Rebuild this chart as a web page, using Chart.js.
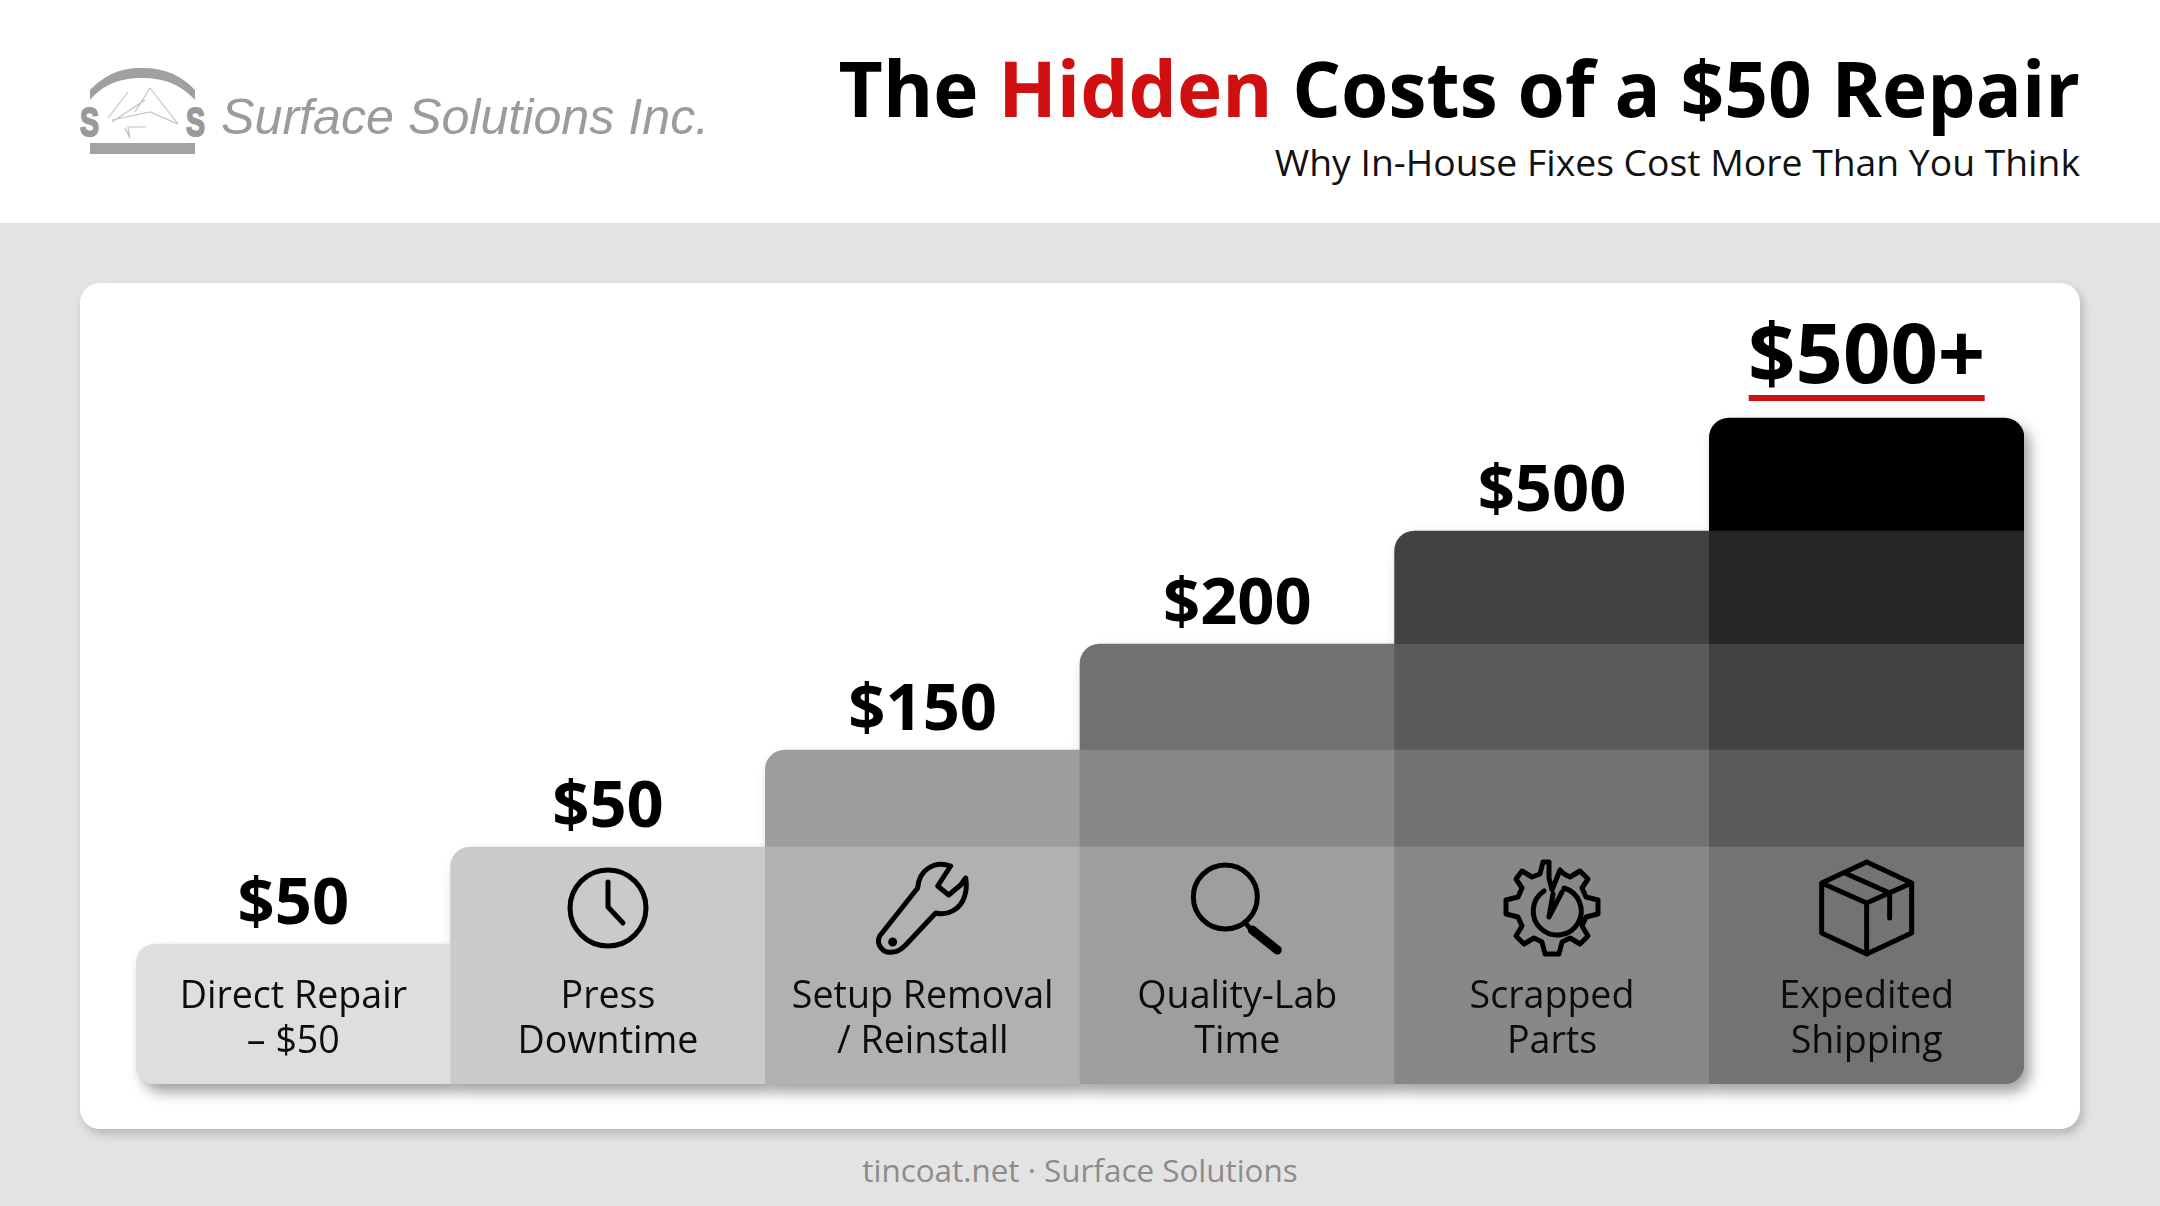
<!DOCTYPE html>
<html>
<head>
<meta charset="utf-8">
<title>The Hidden Costs of a $50 Repair</title>
<script src="https://cdn.jsdelivr.net/npm/chart.js@4"></script>
<style>
  html, body { margin: 0; padding: 0; }
  body { width: 2160px; height: 1206px; position: relative; overflow: hidden; background: #e3e3e3; font-family: "Open Sans", sans-serif; }
  #header { position: absolute; left: 0; top: 0; width: 2160px; height: 223px; background: #fff; }
  #logo { position: absolute; left: 70px; top: 60px; }
  #brand { position: absolute; left: 221px; top: 88px; font: italic 50.2px "Liberation Sans", sans-serif; color: #9b9b9b; white-space: nowrap; }
  #title { position: absolute; right: 80px; top: 35px; font-weight: 700; font-size: 76.5px; line-height: 104px; color: #000; white-space: nowrap; }
  #title span { color: #d01010; }
  #subtitle { position: absolute; right: 80px; top: 135px; font-size: 37.3px; line-height: 54px; color: #111; white-space: nowrap; }
  #card { position: absolute; left: 80px; top: 283px; width: 2000px; height: 846px; background: #fff; border-radius: 20px; box-shadow: 3px 5px 10px rgba(0,0,0,.2); }
  #footer { position: absolute; left: 0; width: 2160px; top: 1148px; text-align: center; font-size: 31.4px; line-height: 44px; color: #8c8c8c; }
  canvas { position: absolute; left: 0; top: 0; }
</style>
</head>
<body>
<div id="header"></div>
<svg id="logo" width="150" height="110" viewBox="70 60 150 110">
  <path d="M90 100 V90 C104 76 118 68 142 68 C166 68 182 76 195 90 V100 C180 84 164 78 142 78 C120 78 104 84 90 100 Z" fill="#a0a0a0"/>
  <rect x="90" y="143" width="105" height="11" fill="#a3a3a3"/>
  <text x="80" y="136" font-family="Liberation Sans" font-weight="700" font-size="41" fill="#999" stroke="#999" stroke-width="2" textLength="19" lengthAdjust="spacingAndGlyphs">S</text>
  <text x="186" y="136" font-family="Liberation Sans" font-weight="700" font-size="41" fill="#999" stroke="#999" stroke-width="2" textLength="19" lengthAdjust="spacingAndGlyphs">S</text>
  <path d="M108 118 L128 92 M112 122 L145 100 M150 88 L178 124 L150 112 L112 120 M125 128 L130 138 L128 127 L146 127 M150 88 L135 112" fill="none" stroke="#c2c2c2" stroke-width="1.2"/>
</svg>
<div id="brand">Surface Solutions Inc.</div>
<div id="title">The <span>Hidden</span> Costs of a $50 Repair</div>
<div id="subtitle">Why In-House Fixes Cost More Than You Think</div>
<div id="card"></div>
<div id="footer">tincoat.net · Surface Solutions</div>
<canvas id="chart" width="2160" height="1206"></canvas>
<script>
const categories = [
  ['Direct Repair', '– $50'],
  ['Press', 'Downtime'],
  ['Setup Removal', '/ Reinstall'],
  ['Quality-Lab', 'Time'],
  ['Scrapped', 'Parts'],
  ['Expedited', 'Shipping']
];
const costLabels = ['$50', '$50', '$150', '$200', '$500', '$500+'];

// bar heights don't follow the dollar labels, read off the picture as steps
const layer1 = [140, 140, 140, 140, 140, 140];
const layer2 = [null, 97, 97, 97, 97, 97];
const layer3 = [null, null, 97, 97, 97, 97];
const layer4 = [null, null, null, 106, 106, 106];
const layer5 = [null, null, null, null, 113, 113];
const layer6 = [null, null, null, null, null, 113];
const layers = [layer1, layer2, layer3, layer4, layer5, layer6];

const lowerGreys = ['#dedede', '#cacaca', '#b1b1b1', '#9e9e9e', '#888888', '#737373'];
const layerGreys = [
  lowerGreys,
  lowerGreys,
  ['', '', '#9d9d9d', '#888888', '#727272', '#5a5a5a'],
  ['', '', '', '#717171', '#5a5a5a', '#424242'],
  ['', '', '', '', '#424242', '#262626'],
  ['', '', '', '', '', '#000000']
];

const iconPaths = [
  null,
  'M38 0A38 38 0 1 1 -38 0A38 38 0 1 1 38 0M0 -26V-1L15 15',
  'M28 -42C12 -48 -4 -38 -5 -20L-43 28C-47 36 -40 46 -30 44C-24 44 -20 40 -17 37L13 5C24 8 38 2 42 -12C44 -18 44 -24 43 -30L38 -23L26 -13L15 -22ZM-28 34A2 2 0 1 1 -32 34A2 2 0 1 1 -28 34',
  'M20 -11A32 32 0 1 1 -44 -11A32 32 0 1 1 20 -11M9 16L14 22',
  'M-3 -46L-9 -46L-12 -34L-20 -31L-30 -37L-36 -29L-30 -20L-34 -11L-46 -8V6L-34 9L-30 18L-36 28L-28 36L-18 30L-10 34L-7 46H7L10 34L18 30L28 36L36 28L30 18L34 9L46 6V-8L34 -11L30 -20L36 -29L28 -37L18 -31L12 -34L8 -38L4 -28L0 -18L-3 -30ZM-8 -17A24 24 0 1 0 12 -20M-3 9L1 -14M-3 9L10 -16',
  'M0 -46L45 -25V25L0 46L-45 25V-25ZM-45 -25L0 -5L45 -25M0 -5V46M-22 -35L23 -15V10'
];

function cornerRadius(ctx) {
  const col = ctx.dataIndex;
  const lay = ctx.datasetIndex;
  const r = 20;
  const top = lay === col;
  return {
    topLeft: top ? r : 0,
    topRight: top && col === 5 ? r : 0,
    bottomLeft: col === 0 && lay === 0 ? r : 0,
    bottomRight: col === 5 && lay === 0 ? r : 0
  };
}

// soft shadow under the whole staircase
const shadowPlugin = {
  id: 'stairShadow',
  beforeDatasetsDraw(chart) {
    const { ctx } = chart;
    const y = chart.scales.y;
    ctx.save();
    ctx.shadowColor = 'rgba(0,0,0,0.38)';
    ctx.shadowBlur = 14;
    ctx.shadowOffsetX = 6;
    ctx.shadowOffsetY = 8;
    categories.forEach((c, col) => {
      const bar = chart.getDatasetMeta(0).data[col];
      const total = layers.reduce((s, l) => s + (l[col] || 0), 0);
      const top = y.getPixelForValue(total);
      ctx.fillStyle = lowerGreys[col];
      ctx.beginPath();
      ctx.roundRect(bar.x - bar.width / 2, top, bar.width, y.getPixelForValue(0) - top, col === 0 ? [20, 0, 0, 20] : col === 5 ? [20, 20, 20, 0] : [20, 0, 0, 0]);
      ctx.fill();
    });
    ctx.restore();
  }
};

// cost labels above the steps and line icons inside them
const annotatePlugin = {
  id: 'stairLabels',
  afterDatasetsDraw(chart) {
    const { ctx } = chart;
    const x = chart.scales.x;
    const y = chart.scales.y;
    ctx.save();
    ctx.textAlign = 'center';
    ctx.textBaseline = 'alphabetic';
    ctx.fillStyle = '#000';
    costLabels.forEach((label, col) => {
      const total = layers.reduce((s, l) => s + (l[col] || 0), 0);
      const cx = x.getPixelForValue(col);
      const top = y.getPixelForValue(total);
      if (col === 5) {
        ctx.font = '700 83px "Open Sans"';
        ctx.fillText(label, cx, top - 35);
        ctx.fillStyle = '#cf1212';
        ctx.fillRect(cx - 118, top - 23, 236, 6);
        ctx.fillStyle = '#000';
      } else {
        ctx.font = '700 65px "Open Sans"';
        ctx.fillText(label, cx, top - 20);
      }
    });
    ctx.strokeStyle = '#000';
    ctx.lineWidth = 5;
    ctx.lineJoin = 'round';
    ctx.lineCap = 'round';
    const iconY = y.getPixelForValue(176);
    iconPaths.forEach((p, col) => {
      if (!p) return;
      ctx.save();
      ctx.translate(x.getPixelForValue(col), iconY);
      ctx.stroke(new Path2D(p));
      if (col === 3) {
        ctx.lineWidth = 9;
        ctx.stroke(new Path2D('M15 22L40 42'));
      }
      ctx.restore();
    });
    ctx.restore();
  }
};

new Chart(document.getElementById('chart'), {
  type: 'bar',
  data: {
    labels: categories,
    datasets: layers.map((data, i) => ({
      label: 'Layer ' + (i + 1),
      data,
      backgroundColor: layerGreys[i],
      borderWidth: 0,
      borderSkipped: false,
      borderRadius: cornerRadius,
      barPercentage: 1,
      categoryPercentage: 1
    }))
  },
  options: {
    responsive: false,
    animation: false,
    layout: { padding: { left: 136, right: 136, top: 284, bottom: 122 } },
    plugins: { legend: { display: false }, tooltip: { enabled: false } },
    scales: {
      x: {
        stacked: true,
        grid: { display: false },
        border: { display: false },
        afterFit(scale) { scale.height = 0; },
        ticks: {
          // mirror switches off the label clip, the axis has no height of its own
          mirror: true,
          padding: 64,
          z: 1,
          autoSkip: false,
          maxRotation: 0,
          color: '#0c0c0c',
          font: { family: '"Open Sans"', size: 37.6, lineHeight: 1.2 }
        }
      },
      y: { stacked: true, display: false, min: 0, max: 800 }
    }
  },
  plugins: [shadowPlugin, annotatePlugin]
});
</script>
</body>
</html>
